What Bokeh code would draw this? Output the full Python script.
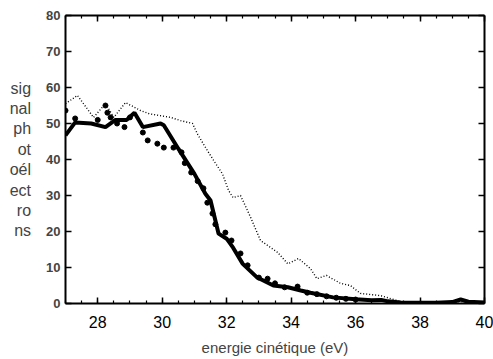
from bokeh.plotting import figure
from bokeh.models import Range1d, LinearAxis, SingleIntervalTicker
from bokeh.embed import file_html
from bokeh.resources import INLINE

# thick solid line
solid_x = [27.0, 27.3, 27.8, 28.24, 28.55, 28.9, 29.14, 29.4, 29.95, 30.05, 30.5, 31.0,
           31.34, 31.5, 31.75, 32.0, 32.2, 32.5, 32.95, 33.45, 33.9, 34.3, 34.6, 35.3,
           36.0, 36.5, 36.8, 37.0, 37.4, 38.0, 38.5, 39.0, 39.26, 39.5, 40.0]
solid_y = [46.7, 50.3, 50.0, 49.0, 51.0, 51.0, 53.0, 49.0, 50.0, 49.5, 43.0, 36.0,
           30.5, 28.6, 19.4, 18.0, 15.5, 11.0, 7.2, 5.0, 4.5, 3.6, 3.0, 1.7,
           1.2, 0.9, 1.0, 0.6, 0.3, 0.2, 0.2, 0.4, 1.1, 0.5, 0.3]

# large dotted series
dots_x = [27.0, 27.3, 28.0, 28.24, 28.3, 28.4, 28.6, 28.83, 29.0, 29.4, 29.55, 29.85,
          30.05, 30.35, 30.6, 30.7, 30.9, 31.1, 31.28, 31.4, 31.56, 31.65, 31.96, 32.15,
          32.43, 32.65, 33.0, 33.27, 33.5, 33.8, 34.2, 34.5, 34.8, 35.1, 35.4, 35.7, 36.0]
dots_y = [53.6, 51.4, 51.0, 55.0, 53.0, 51.7, 50.0, 49.0, 51.7, 47.5, 45.3, 44.4,
          43.3, 43.3, 42.0, 39.0, 36.4, 34.0, 32.0, 28.0, 25.0, 22.0, 19.7, 17.5,
          13.9, 10.6, 7.2, 6.9, 5.6, 4.5, 4.7, 3.0, 2.6, 2.0, 1.6, 1.3, 1.1]

# thin dotted line
thin_x = [27.0, 27.37, 27.87, 28.24, 28.5, 28.86, 29.33, 29.6, 30.26, 30.57, 30.94, 31.1,
          31.4, 31.65, 31.87, 32.06, 32.2, 32.43, 32.74, 33.05, 33.58, 33.9, 34.23, 34.6,
          34.8, 35.1, 35.53, 35.84, 36.15, 36.77, 37.3, 37.6, 38.5, 40.0]
thin_y = [55.5, 57.8, 51.7, 55.5, 51.7, 55.8, 53.6, 52.7, 51.7, 50.8, 50.0, 47.0,
          42.5, 39.0, 36.0, 31.4, 29.4, 30.0, 24.0, 17.5, 14.2, 11.0, 12.5, 9.7,
          6.9, 7.8, 5.6, 5.0, 2.8, 2.2, 0.8, 0.0, 0.0, 0.0]

ylabel_lines = ["sig", "nal", "ph", "ot", "oél", "ect", "ro", "ns"]
x_title = "energie cinétique (eV)"

FONT = "Liberation Sans"

p = figure(width=493, height=359, x_range=Range1d(27, 40), y_range=Range1d(0, 80),
           output_backend="svg", toolbar_location=None,
           min_border_left=65, min_border_right=9, min_border_top=15, min_border_bottom=56)
p.xgrid.visible = False
p.ygrid.visible = False
p.outline_line_color = None

def style(ax):
    ax.axis_line_width = 2
    ax.axis_line_color = "black"
    ax.major_tick_in = 6
    ax.major_tick_out = 0
    ax.minor_tick_in = 3
    ax.minor_tick_out = 0
    ax.major_tick_line_width = 1.5
    ax.minor_tick_line_width = 1.2

xa = p.xaxis[0]
xa.ticker = SingleIntervalTicker(interval=2, num_minor_ticks=4)
style(xa)
xa.major_label_text_font = FONT
xa.major_label_text_font_size = "16px"
xa.major_label_text_color = "black"
xa.major_label_standoff = 12
xa.axis_label = x_title
xa.axis_label_text_font = FONT
xa.axis_label_text_font_style = "normal"
xa.axis_label_text_font_size = "15px"
xa.axis_label_standoff = 8

ya = p.yaxis[0]
ya.ticker = SingleIntervalTicker(interval=10, num_minor_ticks=0)
style(ya)
ya.minor_tick_in = 0
ya.major_label_text_font = FONT
ya.major_label_text_font_style = "bold"
ya.major_label_text_font_size = "13px"
ya.major_label_standoff = 5
ya.axis_label = "\n".join(ylabel_lines)
ya.axis_label_orientation = "horizontal"
ya.axis_label_text_align = "left"
ya.axis_label_text_font = FONT
ya.axis_label_text_font_style = "normal"
ya.axis_label_text_font_size = "16px"
ya.axis_label_text_line_height = 1.2
ya.axis_label_standoff = 12

top = LinearAxis(ticker=SingleIntervalTicker(interval=2, num_minor_ticks=4),
                 major_label_text_color=None, major_label_standoff=0)
style(top)
p.add_layout(top, "above")

right = LinearAxis(ticker=SingleIntervalTicker(interval=10, num_minor_ticks=0),
                   major_label_text_color=None, major_label_standoff=0)
style(right)
right.minor_tick_in = 0
p.add_layout(right, "right")

p.line(thin_x, thin_y, line_color="black", line_width=1.4, line_dash="1 2")
p.line(solid_x, solid_y, line_color="black", line_width=4)
p.scatter(dots_x, dots_y, size=5, color="black")

open("out.html", "w").write(file_html(p, INLINE))
